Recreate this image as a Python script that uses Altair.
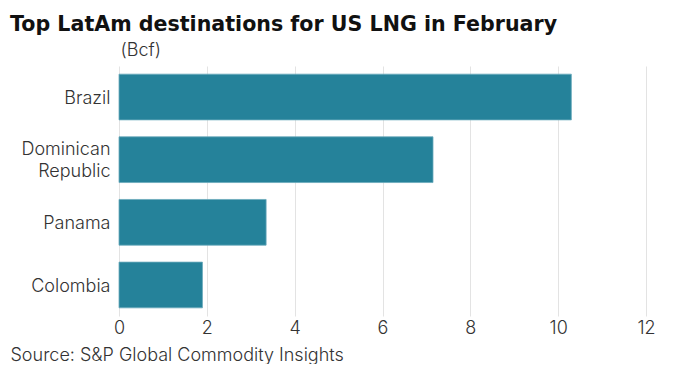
import altair as alt
import pandas as pd

countries = ["Brazil", "Dominican Republic", "Panama", "Colombia"]
values = [10.3, 7.15, 3.35, 1.9]
x_ticks = [0, 2, 4, 6, 8, 10, 12]

df = pd.DataFrame({"country": countries, "bcf": values})

FONT = "Inter"
TXT = "#333333"

chart = alt.Chart(df).mark_bar(
    color="#25829a", stroke="#6aaabb", strokeWidth=0.8
).encode(
    x=alt.X(
        "bcf:Q",
        scale=alt.Scale(domain=[0, 12], nice=False),
        axis=alt.Axis(
            values=x_ticks,
            title="Source: S&P Global Commodity Insights",
            titleX=-109, titleY=39, titleAlign="left", titleBaseline="middle",
            titleFont=FONT, titleFontSize=18, titleFontWeight=300, titleColor=TXT,
            labelFont=FONT, labelFontSize=18, labelFontWeight=300, labelColor=TXT,
            labelPadding=3, labelFlush=False,
            domain=False, ticks=False,
            gridColor="#e3e3e3", gridWidth=1,
        ),
    ),
    y=alt.Y(
        "country:N",
        sort=countries,
        scale=alt.Scale(paddingInner=0.27, paddingOuter=0.13),
        axis=alt.Axis(
            title="(Bcf)", titleAngle=0, titleX=1, titleY=-16,
            titleAlign="left", titleBaseline="middle",
            titleFont=FONT, titleFontSize=18, titleFontWeight=300, titleColor=TXT,
            labelFont=FONT, labelFontSize=18, labelFontWeight=300, labelColor=TXT, labelPadding=9,
            labelExpr="datum.value == 'Dominican Republic' ? ['Dominican', 'Republic'] : datum.value",
            labelLineHeight=22,
            labelOffset={"condition": {"test": "datum.value == 'Dominican Republic'", "value": -10}, "value": 2},
            domain=False, ticks=False, grid=False,
        ),
    ),
).properties(
    width=527,
    height=250,
    title=alt.Title(
        "Top LatAm destinations for US LNG in February",
        anchor="start", frame="group", dx=-109, dy=-1,
        font="DejaVu Sans", fontSize=20.6, fontWeight="bold", color="#111111",
    ),
    padding={"left": 111, "top": 58, "right": 23, "bottom": 48},
    autosize="none",
).configure_view(stroke=None)

chart.save("out.html", embed_options={"renderer": "svg", "actions": False})
